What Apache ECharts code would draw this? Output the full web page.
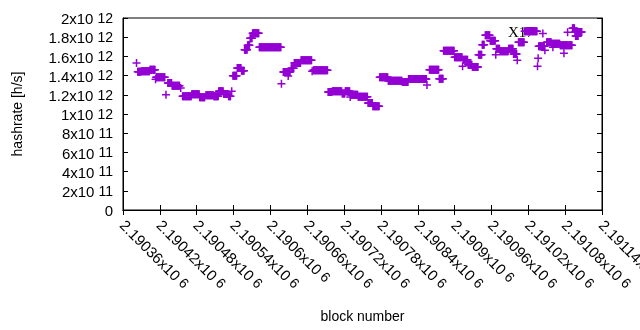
<!DOCTYPE html>
<html>
<head>
<meta charset="utf-8">
<script src="https://cdn.jsdelivr.net/npm/echarts@6/dist/echarts.min.js"></script>
<style>
  html, body { margin: 0; padding: 0; background: #fff; }
  #chart { width: 640px; height: 330px; }
</style>
</head>
<body>
<div id="chart"></div>
<script>
// runs of blocks that share one hashrate reading (1e12 h/s)
const runStart = [2190382, 2190384, 2190390, 2190404, 2190413, 2190414, 2190430, 2190433, 2190440, 2190454,
  2190457, 2190472, 2190485, 2190495, 2190508, 2190516, 2190524, 2190532, 2190537, 2190539,
  2190546, 2190553, 2190558, 2190563, 2190567, 2190571, 2190582, 2190618, 2190621, 2190629,
  2190634, 2190639, 2190650, 2190668, 2190670, 2190694, 2190701, 2190717, 2190722, 2190730,
  2190731, 2190743, 2190759, 2190767, 2190778, 2190792, 2190815, 2190825, 2190855, 2190859,
  2190875, 2190882, 2190900, 2190913, 2190914, 2190922, 2190929, 2190939, 2190945, 2190950,
  2190958, 2190967, 2190968, 2190974, 2190988, 2190996, 2191002, 2191004, 2191014, 2191035,
  2191036, 2191037, 2191047, 2191050, 2191060, 2191058, 2191072, 2191078, 2191084, 2191092,
  2191096, 2191097];
const runEnd = [2190382, 2190389, 2190403, 2190412, 2190413, 2190428, 2190430, 2190439, 2190452, 2190454,
  2190471, 2190484, 2190493, 2190507, 2190515, 2190523, 2190531, 2190535, 2190537, 2190545,
  2190552, 2190557, 2190562, 2190566, 2190570, 2190581, 2190617, 2190618, 2190632, 2190629,
  2190638, 2190649, 2190667, 2190668, 2190693, 2190700, 2190716, 2190721, 2190729, 2190730,
  2190742, 2190758, 2190766, 2190777, 2190791, 2190814, 2190824, 2190854, 2190855, 2190874,
  2190881, 2190899, 2190912, 2190913, 2190921, 2190928, 2190938, 2190944, 2190948, 2190957,
  2190966, 2190967, 2190973, 2190987, 2190995, 2191001, 2191002, 2191013, 2191034, 2191035,
  2191036, 2191046, 2191047, 2191057, 2191060, 2191071, 2191091, 2191078, 2191084, 2191095,
  2191107, 2191101];
const runRate = [1.531, 1.44, 1.445, 1.461, 1.361, 1.382, 1.201, 1.323, 1.295, 1.271,
  1.184, 1.205, 1.174, 1.195, 1.184, 1.236, 1.208, 1.184, 1.236, 1.399,
  1.479, 1.451, 1.670, 1.716, 1.789, 1.841, 1.695, 1.316, 1.4375, 1.396,
  1.476, 1.531, 1.559, 1.445, 1.455, 1.229, 1.236, 1.214, 1.236, 1.177,
  1.201, 1.180, 1.115, 1.080, 1.382, 1.347, 1.333, 1.365, 1.302, 1.461,
  1.368, 1.659, 1.591, 1.497, 1.566, 1.514, 1.490, 1.618, 1.722, 1.820,
  1.764, 1.618, 1.680, 1.653, 1.680, 1.625, 1.559, 1.747, 1.861, 1.497,
  1.580, 1.705, 1.664, 1.747, 1.695, 1.732, 1.716, 1.632, 1.851, 1.893,
  1.854, 1.8125];

const seriesName = 'X17';
const xMin = 2190360, xMax = 2191140, xStep = 60;
const yMin = 0, yMax = 2e12, yStep = 2e11;

// every block of a run gets the run's value
let points = [];
for (let i = 0; i < runStart.length; i++) {
  for (let b = runStart[i]; b <= runEnd[i]; b++) {
    points.push([b, runRate[i] * 1e12]);
  }
}

const plus = 'path://M0,3.25H3.25V0H4.75V3.25H8V4.75H4.75V8H3.25V4.75H0Z';

// gnuplot style "2x10^12" labels
function sciLabel(v, digits) {
  if (v === 0) return '{m|0}';
  let e = Math.floor(Math.log10(v) + 1e-9);
  let m = parseFloat((v / Math.pow(10, e)).toFixed(digits));
  return '{m|' + m + 'x10}{s|' + e + '}';
}

// small boxes so neighbouring labels do not get hidden
const richText = {
  m: { fontSize: 15, lineHeight: 12, fontFamily: 'Liberation Sans', color: '#000', padding: [4, 0, 0, 0] },
  s: { fontSize: 14, lineHeight: 9, verticalAlign: 'top', fontFamily: 'Liberation Sans', color: '#000', padding: [0, 0, 0, 4] }
};

const chartDom = document.getElementById('chart');
let myChart = echarts.init(chartDom, null, { renderer: 'canvas' });
let option;

option = {
  animation: false,
  textStyle: { fontFamily: 'Liberation Sans' },
  grid: {
    left: 123, right: 38, top: 18, bottom: 120,
    containLabel: false, outerBoundsMode: 'none',
    show: true, borderColor: '#000', borderWidth: 1
  },
  legend: {
    left: 503,
    top: 21,
    z: 1,
    align: 'right',
    icon: plus,
    itemWidth: 8,
    itemHeight: 8,
    textStyle: { fontFamily: 'Liberation Serif', fontSize: 15, color: '#000' },
    data: [seriesName]
  },
  xAxis: [{
    type: 'value',
    min: xMin, max: xMax, interval: xStep,
    name: 'block number',
    nameLocation: 'middle',
    nameGap: 100,
    nameTextStyle: { fontSize: 14, color: '#000' },
    axisLine: { lineStyle: { color: '#000' } },
    axisTick: { inside: true, length: 5, lineStyle: { color: '#000' } },
    splitLine: { show: false },
    axisLabel: {
      rotate: -45, margin: 12, hideOverlap: false, showMaxLabel: true, showMinLabel: true,
      formatter: v => sciLabel(v, 5), rich: richText
    }
  }, {
    type: 'value', position: 'top',
    min: xMin, max: xMax, interval: xStep,
    axisLine: { lineStyle: { color: '#000' } },
    axisTick: { inside: true, length: 5, lineStyle: { color: '#000' } },
    axisLabel: { show: false },
    splitLine: { show: false }
  }],
  yAxis: [{
    type: 'value',
    min: yMin, max: yMax, interval: yStep,
    name: 'hashrate [h/s]',
    nameLocation: 'middle',
    nameGap: 98,
    nameTextStyle: { fontSize: 14, color: '#000' },
    axisLine: { show: true, lineStyle: { color: '#000' } },
    axisTick: { show: true, inside: true, length: 5, lineStyle: { color: '#000' } },
    splitLine: { show: false },
    axisLabel: {
      margin: 10, hideOverlap: false, showMaxLabel: true, showMinLabel: true,
      formatter: v => sciLabel(v, 2), rich: richText
    }
  }, {
    type: 'value', position: 'right',
    min: yMin, max: yMax, interval: yStep,
    axisLine: { show: true, lineStyle: { color: '#000' } },
    axisTick: { show: true, inside: true, length: 5, lineStyle: { color: '#000' } },
    axisLabel: { show: false },
    splitLine: { show: false }
  }],
  series: [{
    name: seriesName,
    type: 'scatter',
    symbol: plus,
    symbolSize: 8,
    z: 3,
    itemStyle: { color: '#9400d3', opacity: 1 },
    data: points
  }]
};

option && myChart.setOption(option);
</script>
</body>
</html>
